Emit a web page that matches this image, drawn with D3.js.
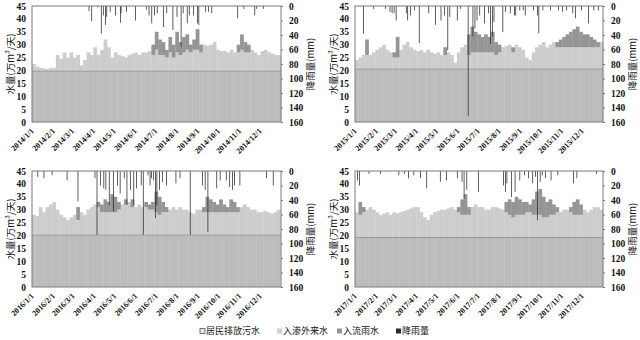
<!DOCTYPE html>
<html>
<head>
<meta charset="utf-8">
<script src="https://cdn.jsdelivr.net/npm/d3@7"></script>
<style>
  body { margin: 0; background: #fff; }
  .tick text { font-family: "Liberation Serif", "Times New Roman", serif; font-weight: bold; }
</style>
</head>
<body>
<svg id="chart" width="640" height="340"></svg>
<script>
// 年份与居民排放污水（基流，万m³/天）
const years = [2014, 2015, 2016, 2017];
const baseFlow = [19.7, 20.5, 20.1, 19.2];

// 入渗外来水（每5天一格，万m³/天）
const infil2014 = [2.8,1.8,1.3,1.1,0.8,1.3,1.3,6.3,4.8,7.3,
  5.3,7.3,5.3,6.3,2.3,4.3,7.3,6.3,9.3,6.3,
  8.3,12.3,9.3,5.3,7.3,6.3,5.8,5.3,6.3,6.8,
  7.3,6.3,7.3,7.3,7.8,6.3,8.3,6.3,6.3,5.3,
  7.3,5.3,7.3,6.3,7.3,8.3,7.3,8.3,8.3,7.3,
  10.3,9.8,10.3,11.3,8.3,7.8,7.8,7.3,8.3,7.3,
  7.3,8.3,7.3,7.3,8.3,7.3,6.3,7.8,8.3,7.3,
  6.8,6.3,6.3];
const infil2015 = [3.5,4.5,5.5,5.5,5.5,6.5,7.5,8.5,9.5,7.5,
  6.5,4.5,4.5,7.5,9.5,10.5,8.5,7.5,7,7.5,
  6.5,7.5,6.5,6,6.5,5.5,5.5,6.5,5.5,2.5,
  6.5,8.5,9.5,5.5,6.5,6.5,6.5,6.5,6.5,6.5,
  6.5,5.5,6.5,8.5,9,9.5,6.5,9.5,8.5,7.5,
  4.5,3.5,6.5,8.5,9.5,10.5,8.5,9.5,10.5,8.5,
  8.5,8.5,8.5,8.5,8.5,8.5,8.5,8.5,8.5,8.5,
  8.5,8.5,10.5];
const infil2016 = [7.9,7.4,10.9,8.9,10.9,11.9,12.9,9.9,7.9,6.9,
  5.9,6.9,7.9,5.9,8.9,7.9,9.9,10.9,11.9,10.9,
  8.9,8.9,8.9,8.9,8.9,9.9,11.9,11.9,12.9,10.9,
  10.9,11.9,10.9,10.9,9.9,9.9,8.9,7.9,8.9,8.9,
  9.9,10.9,9.9,10.9,9.9,9.9,8.9,8.4,9.9,9.9,
  8.9,8.9,8.9,8.9,8.9,8.9,8.9,8.9,8.9,8.9,
  8.9,10.9,11.9,10.9,9.9,9.9,8.9,8.9,9.4,8.9,
  8.4,8.9,9.9];
const infil2017 = [9.8,8.8,9.8,10.8,11.8,10.8,9.8,8.8,9.3,9.8,
  8.8,9.8,9.3,9.8,10.3,10.8,11.3,11.8,11.8,9.8,
  7.8,6.8,8.8,9.8,10.3,10.8,10.8,11.3,11.8,10.8,
  9.8,8.8,8.8,8.8,11.8,12.8,11.8,11.8,10.8,10.8,
  11.8,11.8,11.3,10.8,9.8,8.8,7.8,8.8,8.8,8.8,
  9.8,9.8,8.8,8.8,8.8,7.8,7.8,8.8,8.8,9.8,
  9.8,10.8,10.8,9.8,8.8,8.8,8.8,10.8,9.8,10.8,
  11.8,11.8,10.8];

// 入流雨水（每5天一格，万m³/天）
const inflow2014 = [0,0,0,0,0,0,0,0,0,0,
  0,0,0,0,0,0,0,0,0,0,
  0,0,0,0,0,0,0,0,0,0,
  0,0,0,0,0,4,7,6,5,3,
  6,5,8,5,6,6,3,4,8,3,
  0,0,0,0,0,0,0,0,0,0,
  3,6,4,3,0,0,0,0,0,0,
  0,0,0];
const inflow2015 = [0,0,0,6,0,0,0,0,0,0,
  0,2,8,0,0,0,0,0,0,0,
  0,0,0,0,0,0,3,0,0,0,
  0,0,0,8,10,8,7,6,7,6,
  8,5,3,0,0,0,2,0,0,0,
  0,0,0,0,0,0,0,0,0,2,
  3,4,5,6,7,8,6,5,5,4,
  3,2,0];
const inflow2016 = [0,0,0,0,0,0,0,0,0,0,
  0,0,0,5,0,0,0,0,0,2,
  3,5,4,7,6,3,0,2,0,3,
  0,0,0,2,2,3,8,7,4,2,
  0,0,0,0,0,0,0,0,0,0,
  2,6,5,4,3,5,3,2,5,4,
  2,0,0,0,0,0,0,0,0,0,
  0,0,0];
const inflow2017 = [0,5,2,0,0,0,0,0,0,0,
  0,0,0,0,0,0,0,0,0,0,
  0,0,0,0,0,0,0,0,0,0,
  2,6,8,3,0,0,0,0,0,0,
  0,0,0,0,4,6,6,7,6,5,
  4,3,6,9,10,8,6,6,4,2,
  0,0,0,2,5,6,4,0,0,0,
  0,0,0];

// 降雨量 [年内第几天, mm]
const rain2014 = [[83,7],[87,21],[96,2],[101,38],[104,13],[107,26],[109,15],[114,8],[122,13],
  [129,23],[130,10],[138,8],[151,20],[167,5],[171,13],[175,24],[179,13],[183,10],[192,29],
  [197,10],[206,33],[212,15],[218,56],[221,10],[227,24],[230,13],[236,13],[242,24],[244,26],
  [254,8],[258,8],[263,10],[301,17],[310,4],[326,13],[329,4],[339,4]];
const rain2015 = [[12,38],[27,4],[44,4],[51,8],[54,10],[57,10],[60,20],[75,10],[77,20],[81,13],
  [87,6],[94,51],[108,10],[118,26],[126,20],[131,13],[136,61],[139,15],[150,20],[155,4],
  [166,152],[173,42],[176,31],[179,20],[183,13],[190,24],[196,10],[199,52],[202,42],[204,22],
  [217,36],[221,8],[228,10],[234,13],[236,13],[242,6],[247,6],[250,13],[262,6],[268,13],
  [270,38],[276,6],[287,6],[299,6],[305,8],[311,6],[320,10],[324,17],[333,6],[343,24],
  [351,6],[358,6]];
const rain2016 = [[8,8],[17,10],[29,6],[51,13],[67,42],[92,10],[95,88],[100,20],[105,24],
  [108,26],[113,47],[119,56],[125,20],[129,31],[135,10],[139,47],[144,26],[149,47],[153,24],
  [160,20],[163,88],[170,6],[173,20],[175,10],[178,13],[181,65],[183,47],[187,26],[191,15],
  [197,20],[211,17],[217,10],[232,88],[250,20],[254,26],[258,84],[271,24],[276,13],[285,13],
  [290,22],[294,26],[297,20],[305,20],[344,10],[354,20]];
const rain2017 = [[3,13],[6,20],[20,4],[37,4],[64,6],[72,4],[78,10],[86,6],[96,10],[105,24],
  [125,15],[134,13],[150,10],[157,15],[160,38],[164,26],[181,29],[218,20],[221,29],[223,17],
  [230,36],[235,29],[242,13],[249,6],[255,10],[261,17],[265,8],[268,68],[272,15],[275,6],
  [280,10],[288,13],[298,6],[321,17],[326,10],[355,4]];

const leftTicks = [0, 5, 10, 15, 20, 25, 30, 35, 40, 45];
const rightTicks = [0, 20, 40, 60, 80, 100, 120, 140, 160];
const legendNames = ["居民排放污水", "入渗外来水", "入流雨水", "降雨量"];
const colors = ["#bcbcbc", "#cdcdcd", "#959595", "#2a2a2a"];

const panels = [
  {year: years[0], base: baseFlow[0], infil: infil2014, inflow: inflow2014, rain: rain2014, L: 32,  T: 6,   R: 281, B: 122},
  {year: years[1], base: baseFlow[1], infil: infil2015, inflow: inflow2015, rain: rain2015, L: 355, T: 6,   R: 603, B: 122},
  {year: years[2], base: baseFlow[2], infil: infil2016, inflow: inflow2016, rain: rain2016, L: 32,  T: 171, R: 281, B: 287},
  {year: years[3], base: baseFlow[3], infil: infil2017, inflow: inflow2017, rain: rain2017, L: 355, T: 171, R: 603, B: 287}
];

const svg = d3.select("#chart");
const fmt = d3.timeFormat("%Y/%-m/%-d");

panels.forEach(p => {
  const start = new Date(p.year, 0, 1), end = new Date(p.year + 1, 0, 1);
  const x = d3.scaleTime().domain([start, end]).range([p.L, p.R]);
  const y = d3.scaleLinear().domain([0, 45]).range([p.B, p.T]);
  const y2 = d3.scaleLinear().domain([0, 160]).range([p.T, p.B]);
  const g = svg.append("g");

  const bins = p.infil.map((v, i) => {
    const d0 = new Date(p.year, 0, 1 + 5 * i);
    const d1 = new Date(Math.min(+new Date(p.year, 0, 6 + 5 * i), +end));
    return {d0, d1, base: p.base, infil: v, inflow: p.inflow[i]};
  });
  const bx = d => x(d.d0), bw = d => x(d.d1) - x(d.d0) + 0.3;

  // 居民排放污水
  g.selectAll("rect.base").data(bins).enter().append("rect")
    .attr("x", bx).attr("width", bw)
    .attr("y", d => y(d.base)).attr("height", d => y(0) - y(d.base))
    .attr("fill", colors[0]);
  // 入渗外来水
  g.selectAll("rect.infil").data(bins).enter().append("rect")
    .attr("x", bx).attr("width", bw)
    .attr("y", d => y(d.base + d.infil)).attr("height", d => y(d.base) - y(d.base + d.infil))
    .attr("fill", colors[1]);
  // 入流雨水
  g.selectAll("rect.inflow").data(bins.filter(d => d.inflow > 0)).enter().append("rect")
    .attr("x", bx).attr("width", bw)
    .attr("y", d => y(d.base + d.infil + d.inflow))
    .attr("height", d => y(d.base + d.infil) - y(d.base + d.infil + d.inflow))
    .attr("fill", colors[2]);

  // 基流分界线
  g.append("line")
    .attr("x1", p.L).attr("x2", p.R)
    .attr("y1", y(p.base)).attr("y2", y(p.base))
    .attr("stroke", "#9a9a9a").attr("stroke-width", 1);

  // 降雨量（倒置）
  g.selectAll("rect.rain").data(p.rain).enter().append("rect")
    .attr("x", d => x(new Date(p.year, 0, 1 + d[0])))
    .attr("width", 0.75)
    .attr("y", p.T)
    .attr("height", d => y2(d[1]) - p.T)
    .attr("fill", colors[3]);

  // 边框
  g.append("rect")
    .attr("x", p.L).attr("y", p.T).attr("width", p.R - p.L).attr("height", p.B - p.T)
    .attr("fill", "none").attr("stroke", "#7a7a7a");

  // 左轴
  const ax = g.append("g").attr("transform", `translate(${p.L},0)`)
    .call(d3.axisLeft(y).tickValues(leftTicks).tickSize(0).tickPadding(6));
  ax.select(".domain").remove();
  ax.selectAll("text").style("font-size", "9.5px").attr("fill", "#111");

  // 右轴
  const ar = g.append("g").attr("transform", `translate(${p.R},0)`)
    .call(d3.axisRight(y2).tickValues(rightTicks).tickSize(2).tickPadding(6));
  ar.select(".domain").remove();
  ar.selectAll("line").attr("stroke", "#7a7a7a");
  ar.selectAll("text").style("font-size", "9.5px").attr("fill", "#111");

  // 日期标签
  g.selectAll("text.month").data(d3.timeMonth.range(start, end)).enter().append("text")
    .attr("transform", d => `translate(${x(d) - 1},${p.B + 6}) rotate(-45)`)
    .attr("text-anchor", "end")
    .attr("dy", "0.6em")
    .style("font-family", "'Liberation Serif', 'Times New Roman', serif")
    .style("font-weight", "bold")
    .style("font-size", "8px")
    .attr("fill", "#111")
    .text(fmt);

  // 轴标题
  g.append("text")
    .attr("transform", `translate(${p.L - 21},${(p.T + p.B) / 2}) rotate(-90)`)
    .attr("text-anchor", "middle")
    .attr("dy", "0.35em")
    .style("font-family", "'Noto Sans CJK SC', sans-serif")
    .style("font-size", "9.5px")
    .attr("fill", "#111")
    .text("水量(万m³/天)");
  g.append("text")
    .attr("transform", `translate(${p.R + 30},${(p.T + p.B) / 2}) rotate(-90)`)
    .attr("text-anchor", "middle")
    .attr("dy", "0.35em")
    .style("font-family", "'Noto Sans CJK SC', sans-serif")
    .style("font-size", "9.5px")
    .attr("fill", "#111")
    .text("降雨量(mm)");
});

// 图例
const legendX = [200, 277, 337, 396];
const lg = svg.append("g").attr("transform", "translate(0,331)");
legendNames.forEach((name, i) => {
  lg.append("rect")
    .attr("x", legendX[i]).attr("y", -2.5).attr("width", 5).attr("height", 5)
    .attr("fill", i === 0 ? "#e6e6e6" : colors[i])
    .attr("stroke", i === 0 ? "#555" : "none").attr("stroke-width", 0.8);
  lg.append("text")
    .attr("x", legendX[i] + 6).attr("y", 0).attr("dy", "0.35em")
    .style("font-family", "'Noto Sans CJK SC', sans-serif")
    .style("font-size", "9px")
    .attr("fill", "#111")
    .text(name);
});
</script>
</body>
</html>
